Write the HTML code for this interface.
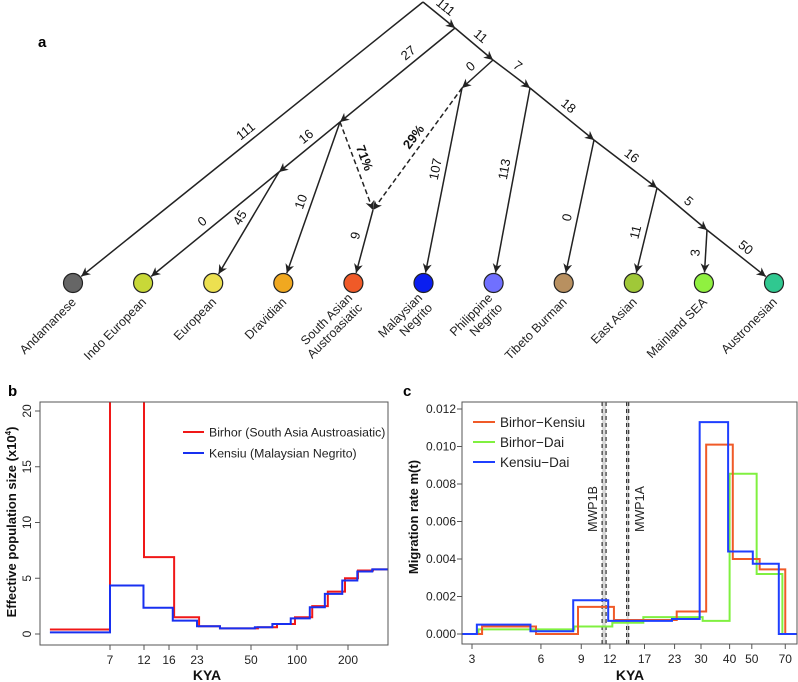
<!DOCTYPE html>
<html><head><meta charset="utf-8"><style>
html,body{margin:0;padding:0;background:#fff;}
svg{display:block;font-family:"Liberation Sans",Arial,sans-serif;}
</style></head><body>
<svg id="fig" width="798" height="682" viewBox="0 0 798 682" xmlns="http://www.w3.org/2000/svg">
<defs>
<marker id="arr" viewBox="0 0 10 10" refX="10" refY="5" markerWidth="9" markerHeight="9" markerUnits="userSpaceOnUse" orient="auto">
<path d="M0,0 L10,5 L0,10 L3,5 z" fill="#222"/></marker>
<clipPath id="clipB"><rect x="40" y="402" width="348" height="243"/></clipPath>
<clipPath id="clipC"><rect x="462" y="402" width="335" height="242"/></clipPath>
</defs>
<g id="tree"></g>
<g id="panelB"></g>
<g id="panelC"></g>
<text x="38" y="47" font-size="15" font-weight="bold">a</text>
<text x="8" y="396" font-size="15" font-weight="bold">b</text>
<text x="403" y="396" font-size="15" font-weight="bold">c</text>
</svg>
<script>
// ---------- Panel b data ----------
const bTickVals = [7, 12, 16, 23, 50, 100, 200];
const bTickPx = [110, 144, 169, 197, 251, 297, 348];
const bYTicks = [0, 5, 10, 15, 20];
const birhorBreaks = [2.7, 7, 12, 17.1, 23.7, 32, 55.5, 74, 97, 123, 152, 192, 229, 281, 345];
const birhorNe = [0.4, 25, 6.9, 1.5, 0.7, 0.5, 0.6, 0.9, 1.5, 2.5, 3.8, 5.0, 5.7, 5.8];
const kensiuBreaks = [2.7, 7, 11.9, 16.8, 23, 32, 53, 69, 91, 119, 146, 185, 227, 278, 345];
const kensiuNe = [0.15, 4.35, 2.35, 1.2, 0.7, 0.5, 0.6, 0.9, 1.4, 2.4, 3.6, 4.8, 5.6, 5.8];
// ---------- Panel c data ----------
const cTicks = [3, 6, 9, 12, 17, 23, 30, 40, 50, 70];
const cYTicks = [0, 0.002, 0.004, 0.006, 0.008, 0.010, 0.012];
const bkBreaks = [2.7, 3.32, 5.71, 8.71, 12.5, 23.5, 31.6, 41.3, 54.1, 70, 80];
const bkRate = [0, 0.0004, 0, 0.00145, 0.00075, 0.0012, 0.0101, 0.0040, 0.00345, 0];
const bdBreaks = [2.7, 3.2, 8.4, 12.3, 16.8, 30.5, 40, 52.5, 68, 80];
const bdRate = [0, 0.00025, 0.0004, 0.0006, 0.0009, 0.0007, 0.00855, 0.0032, 0];
const kdBreaks = [2.7, 3.15, 5.4, 8.3, 11.8, 22.4, 29.6, 39.4, 50.5, 65.6, 80];
const kdRate = [0, 0.0005, 0.00015, 0.0018, 0.0007, 0.0008, 0.0113, 0.0044, 0.00375, 0];
const mwpBands = [[11.1, 11.55], [14.2, 14.5]];

const NS = "http://www.w3.org/2000/svg";
function mk(parent, tag, attrs, txt) {
  const e = document.createElementNS(NS, tag);
  for (const k in attrs) e.setAttribute(k, attrs[k]);
  if (txt !== undefined) e.textContent = txt;
  parent.appendChild(e);
  return e;
}

// ---------- Panel a: tree ----------
const tree = document.getElementById('tree');
const leafNames = ["Andamanese", "Indo European", "European", "Dravidian", "South Asian\nAustroasiatic", "Malaysian\nNegrito", "Philippine\nNegrito", "Tibeto Burman", "East Asian", "Mainland SEA", "Austronesian"];
const leafColors = ["#666666", "#c8d838", "#ece050", "#f0a820", "#f05a28", "#0a1ef0", "#7070ff", "#b89060", "#a0c838", "#90f040", "#30c890"];
const leafX = i => 73 + i * 70.1;
const leafY = 283, R = 9.5;
const nodes = {root:[423,2], n1:[455,28], n2:[493,60], neg:[462,88], n3:[530,88], n4:[594,140], n5:[657,188], n6:[707,230], sa:[340,122], ie:[279,172], adm:[373,210]};
function pt(k) { return typeof k === 'number' ? [leafX(k), leafY] : nodes[k]; }
const edges = [
  ['root', 0, '111', false, 0.5], ['root', 'n1', '111', false, 0.5],
  ['n1', 'n2', '11', false, 0.5], ['n1', 'sa', '27', false, 0.35],
  ['n2', 'neg', '0', false, 0.5], ['n2', 'n3', '7', false, 0.5],
  ['n3', 'n4', '18', false, 0.5], ['n3', 6, '113', false, 0.45],
  ['n4', 'n5', '16', false, 0.5], ['n4', 7, '0', false, 0.6],
  ['n5', 'n6', '5', false, 0.5], ['n5', 8, '11', false, 0.55],
  ['n6', 10, '50', false, 0.55], ['n6', 9, '3', false, 0.55],
  ['neg', 5, '107', false, 0.45], ['neg', 'adm', '29%', true, 0.45],
  ['sa', 'ie', '16', false, 0.45], ['sa', 3, '10', false, 0.55], ['sa', 'adm', '71%', true, 0.45],
  ['adm', 4, '9', false, 0.45],
  ['ie', 1, '0', false, 0.55], ['ie', 2, '45', false, 0.5]
];
edges.forEach(ed => {
  const a = pt(ed[0]); let b = pt(ed[1]);
  if (typeof ed[1] === 'number') {
    const dx = b[0]-a[0], dy = b[1]-a[1], L = Math.hypot(dx, dy);
    b = [b[0]-dx/L*(R+1), b[1]-dy/L*(R+1)];
  }
  const ln = mk(tree, 'line', {x1:a[0], y1:a[1], x2:b[0], y2:b[1], stroke:'#222', 'stroke-width':1.5, 'marker-end':'url(#arr)'});
  if (ed[3]) ln.setAttribute('stroke-dasharray', '5,3');
  
  
  let ang = Math.atan2(b[1]-a[1], b[0]-a[0]) * 180 / Math.PI;
  if (ang > 90) ang -= 180; if (ang < -90) ang += 180;
  const t = ed[4];
  const mx = a[0] + (b[0]-a[0])*t, my = a[1] + (b[1]-a[1])*t;
  const rad = ang*Math.PI/180;
  const ox = Math.sin(rad)*6, oy = -Math.cos(rad)*6;
  const tx = mk(tree, 'text', {x:0, y:0, 'font-size':13, 'text-anchor':'middle', fill:'#111',
    'font-weight': ed[3] ? 'bold' : 'normal',
    transform:`translate(${mx+ox},${my+oy}) rotate(${ang})`}, ed[2]);
  
  
});
leafNames.forEach((n, i) => {
  const c = mk(tree, 'circle', {cx:leafX(i), cy:leafY, r:R, fill:leafColors[i], stroke:'#222', 'stroke-width':1.2});
  
  
  const lines = n.split('\n');
  const g = mk(tree, 'text', {x:0, y:0, 'font-size':12.5, 'text-anchor':'end', fill:'#222',
    transform:`translate(${leafX(i)+1},${leafY+17}) rotate(-45)`});
  
  
  lines.forEach((l, j) => mk(g, 'tspan', {x:0, dy: j === 0 ? (lines.length > 1 ? -2 : 4) : 14}, l));
});

// ---------- Panel b ----------
const pb = document.getElementById('panelB');
const bL = 40, bR = 388, bT = 402, bB = 645;
function bx(k) {
  const lk = Math.log10(k);
  const lt = bTickVals.map(Math.log10);
  let i = 0;
  if (lk <= lt[0]) i = 0; else if (lk >= lt[lt.length-1]) i = lt.length-2;
  else { while (lk > lt[i+1]) i++; }
  return bTickPx[i] + (lk - lt[i]) / (lt[i+1]-lt[i]) * (bTickPx[i+1]-bTickPx[i]);
}
const by = v => 634 - v * 11.15;
function stepPath(breaks, vals, fx, fy) {
  let d = `M${fx(breaks[0])},${fy(vals[0])}`;
  for (let i = 0; i < vals.length; i++) {
    d += ` L${fx(breaks[i+1])},${fy(vals[i])}`;
    if (i+1 < vals.length) d += ` L${fx(breaks[i+1])},${fy(vals[i+1])}`;
  }
  return d;
}
let e;
e = mk(pb, 'path', {d:stepPath(birhorBreaks, birhorNe, bx, by), fill:'none', stroke:'#f01818', 'stroke-width':2, 'clip-path':'url(#clipB)'});
 
e = mk(pb, 'path', {d:stepPath(kensiuBreaks, kensiuNe, bx, by), fill:'none', stroke:'#1830f0', 'stroke-width':2, 'clip-path':'url(#clipB)'});
 
e = mk(pb, 'rect', {x:bL, y:bT, width:bR-bL, height:bB-bT, fill:'none', stroke:'#555', 'stroke-width':1});
 
bTickVals.forEach(v => {
  mk(pb, 'line', {x1:bx(v), x2:bx(v), y1:bB, y2:bB+5, stroke:'#555'});
  e = mk(pb, 'text', {x:bx(v), y:bB+19, 'font-size':12, 'text-anchor':'middle', fill:'#222'}, v);
   
});
bYTicks.forEach(v => {
  mk(pb, 'line', {x1:bL-5, x2:bL, y1:by(v), y2:by(v), stroke:'#555'});
  e = mk(pb, 'text', {x:0, y:0, 'font-size':12, 'text-anchor':'middle', fill:'#222', transform:`translate(31,${by(v)}) rotate(-90)`}, v);
   
});
e = mk(pb, 'text', {x:207, y:680, 'font-size':14, 'font-weight':'bold', 'text-anchor':'middle', fill:'#111'}, 'KYA');
 
e = mk(pb, 'text', {x:0, y:0, 'font-size':13, 'font-weight':'bold', 'text-anchor':'middle', fill:'#111', transform:'translate(16,522) rotate(-90)'});
 
mk(e, 'tspan', {}, 'Effective population size (x10');
mk(e, 'tspan', {dy:-5, 'font-size':8}, '4');
mk(e, 'tspan', {dy:5}, ')');
[['Birhor (South Asia Austroasiatic)', '#f01818', 432], ['Kensiu (Malaysian Negrito)', '#1830f0', 453]].forEach(l => {
  mk(pb, 'line', {x1:183, x2:204, y1:l[2], y2:l[2], stroke:l[1], 'stroke-width':2});
  e = mk(pb, 'text', {x:209, y:l[2]+4.5, 'font-size':12.3, fill:'#222'}, l[0]);
   
});

// ---------- Panel c ----------
const pc = document.getElementById('panelC');
const cL = 462, cR = 797, cT = 402, cB = 644;
const cx = k => 472 + (Math.log10(k) - Math.log10(3)) * 229;
const cy = v => 634 - v / 0.012 * 225;
mwpBands.forEach(bd => {
  e = mk(pc, 'rect', {x:cx(bd[0]), y:cT, width:cx(bd[1])-cx(bd[0]), height:cB-cT, fill:'#d8d8d8'});
   
  bd.forEach(k => mk(pc, 'line', {x1:cx(k), x2:cx(k), y1:cT, y2:cB, stroke:'#333', 'stroke-width':1.2, 'stroke-dasharray':'4,3'}));
});
[[bdBreaks, bdRate, '#80f040', 'birhor-dai-line'], [bkBreaks, bkRate, '#f05a28', 'birhor-kensiu-line'], [kdBreaks, kdRate, '#1f3fff', 'kensiu-dai-line']].forEach(s => {
  e = mk(pc, 'path', {d:stepPath(s[0], s[1], cx, cy), fill:'none', stroke:s[2], 'stroke-width':2, 'clip-path':'url(#clipC)'});
   
});
e = mk(pc, 'rect', {x:cL, y:cT, width:cR-cL, height:cB-cT, fill:'none', stroke:'#555', 'stroke-width':1});
 
cTicks.forEach(v => {
  mk(pc, 'line', {x1:cx(v), x2:cx(v), y1:cB, y2:cB+5, stroke:'#555'});
  e = mk(pc, 'text', {x:cx(v), y:cB+19, 'font-size':12, 'text-anchor':'middle', fill:'#222'}, v);
   
});
cYTicks.forEach(v => {
  mk(pc, 'line', {x1:cL-5, x2:cL, y1:cy(v), y2:cy(v), stroke:'#555'});
  e = mk(pc, 'text', {x:456, y:cy(v)+4, 'font-size':12, 'text-anchor':'end', fill:'#222'}, v.toFixed(3));
   
});
e = mk(pc, 'text', {x:630, y:680, 'font-size':14, 'font-weight':'bold', 'text-anchor':'middle', fill:'#111'}, 'KYA');
 
e = mk(pc, 'text', {x:0, y:0, 'font-size':13, 'font-weight':'bold', 'text-anchor':'middle', fill:'#111', transform:'translate(418,517) rotate(-90)'}, 'Migration rate m(t)');
 
e = mk(pc, 'text', {x:0, y:0, 'font-size':12.5, 'text-anchor':'middle', fill:'#222', transform:'translate(597,509) rotate(-90)'}, 'MWP1B');
 
e = mk(pc, 'text', {x:0, y:0, 'font-size':12.5, 'text-anchor':'middle', fill:'#222', transform:'translate(644,509) rotate(-90)'}, 'MWP1A');
 
[['Birhor\u2212Kensiu', '#f05a28', 422], ['Birhor\u2212Dai', '#80f040', 442], ['Kensiu\u2212Dai', '#1f3fff', 462]].forEach(l => {
  mk(pc, 'line', {x1:473, x2:495, y1:l[2], y2:l[2], stroke:l[1], 'stroke-width':2});
  e = mk(pc, 'text', {x:500, y:l[2]+5, 'font-size':13.5, fill:'#222'}, l[0]);
   
});
</script>
</body></html>
